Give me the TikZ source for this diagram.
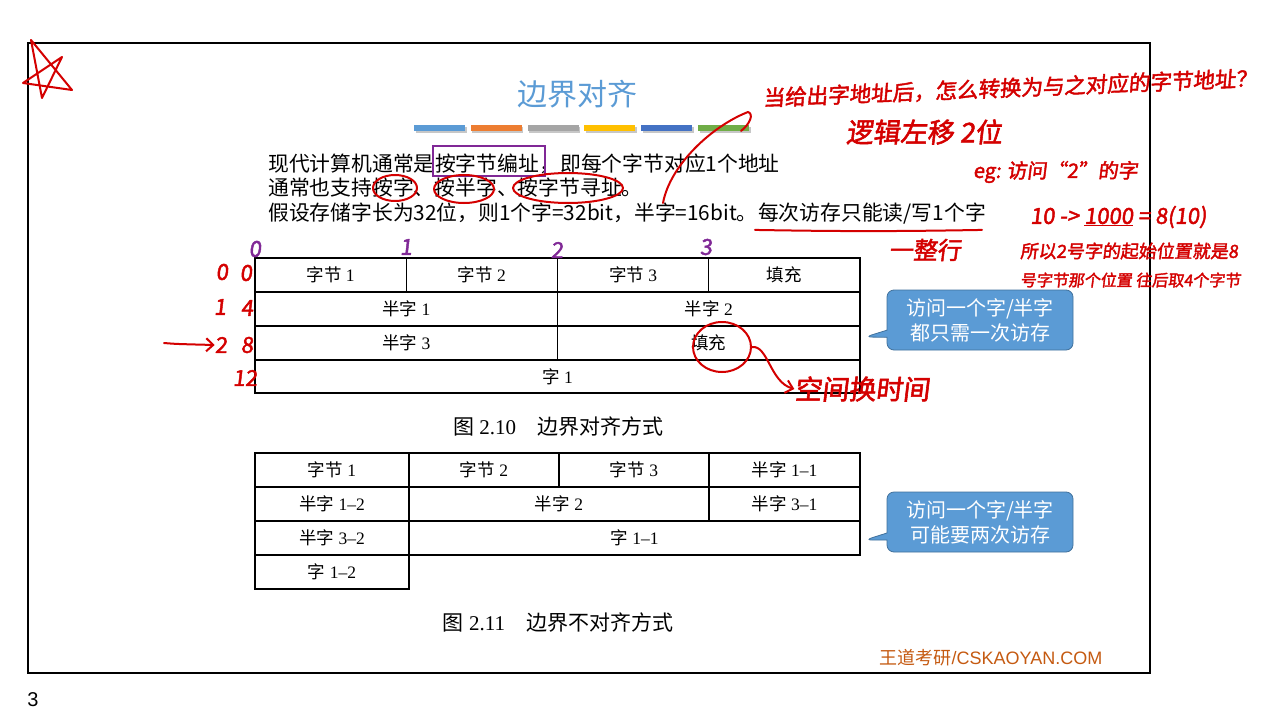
\documentclass[tikz,border=0pt]{standalone}
\usepackage{fontspec}
\setmainfont{Liberation Serif}
\newfontfamily\cjk{Noto Sans CJK SC}
\newfontfamily\hand{Noto Sans CJK SC}[FakeSlant=0.12,FakeBold=2]
\newfontfamily\lsans{Liberation Sans}
\usetikzlibrary{shapes.geometric,shapes.callouts,arrows.meta}

\definecolor{ttlblue}{RGB}{91,155,213}
\definecolor{callfill}{RGB}{91,155,213}
\definecolor{callline}{RGB}{65,113,156}
\definecolor{inkred}{RGB}{212,0,0}
\definecolor{inkpurple}{RGB}{128,40,150}
\definecolor{wmark}{RGB}{197,90,17}
\definecolor{barA}{RGB}{91,155,213}
\definecolor{barB}{RGB}{237,125,49}
\definecolor{barC}{RGB}{165,165,165}
\definecolor{barD}{RGB}{255,192,0}
\definecolor{barE}{RGB}{68,114,196}
\definecolor{barF}{RGB}{112,173,71}

\newcommand\cn[1]{{\cjk #1}}

\tikzset{
  body/.style={anchor=base west, inner sep=0pt, font=\cjk\fontsize{20.8}{24}\selectfont},
  cell/.style={draw, line width=1.2pt, minimum height=34pt, inner sep=0pt,
               font=\fontsize{17.5}{19}\selectfont},
  caption/.style={inner sep=0pt, font=\fontsize{21}{24}\selectfont},
  bubble/.style={rectangle callout, fill=callfill, draw=callline, line width=0.8pt,
                 rounded corners=7pt, minimum width=186pt, minimum height=60pt,
                 text=white, align=center, inner sep=0pt,
                 font=\cjk\fontsize{20}{25}\selectfont},
  ink/.style={draw=inkred, line width=2pt, line cap=round, line join=round},
  inktext/.style={inner sep=0pt, text=inkred},
  marknum/.style={inner sep=0pt, text=inkpurple, font=\hand\fontsize{22}{24}\selectfont},
  rownum/.style={inner sep=0pt, text=inkred, font=\hand\fontsize{22}{24}\selectfont},
  barb/.style={-{Straight Barb[length=7pt,width=13pt,line width=2pt]}}
}

\begin{document}
\begin{tikzpicture}[x=1pt,y=-1pt]
\useasboundingbox (0,0) rectangle (1261,725);
\fill[white] (0,0) rectangle (1261,725);

% slide frame and page number
\draw[line width=2.4pt] (28,43) rectangle (1150,673);
\node[inner sep=0pt, font=\lsans\fontsize{20}{22}\selectfont] (pageno) at (33,700) {3};

% title and colour bars
\node[inner sep=0pt, text=ttlblue, font=\cjk\fontsize{30}{34}\selectfont] (title) at (577,94) {边界对齐};
\foreach \c [count=\i from 0] in {barA,barB,barC,barD,barE,barF} {
  \fill[black!22] (415.5+56.8*\i,126.5) rectangle +(51,6);
  \fill[\c] (414+56.8*\i,125) rectangle +(51,6);
}

% body text
\node[body] (l1a) at (268,171) {现代计算机通常是};
\node[body] (l1b) at (l1a.base east) {按字节编址};
\node[body] (l1c) at (l1b.base east) {，即每个字节对应1个地址};
\draw[inkpurple, line width=1.6pt] (433,146) rectangle (545,176);
\node[body] (l2) at (268,195) {通常也支持按字、按半字、按字节寻址。};
\node[body] (l3a) at (268,220) {假设存储字长为32位，则1个字=32bit，半字=16bit。};
\node[body] (l3b) at (l3a.base east) {每次访存只能读/写1个字};

% aligned layout
\node[cell, minimum width=151.25pt] (a11) at (330.6,275) {\cn{字节} 1};
\node[cell, minimum width=151.25pt] (a12) at (481.9,275) {\cn{字节} 2};
\node[cell, minimum width=151.25pt] (a13) at (633.1,275) {\cn{字节} 3};
\node[cell, minimum width=151.25pt] (a14) at (784.4,275) {\cn{填充}};
\node[cell, minimum width=302.5pt] (a21) at (406.25,309) {\cn{半字} 1};
\node[cell, minimum width=302.5pt] (a22) at (708.75,309) {\cn{半字} 2};
\node[cell, minimum width=302.5pt] (a31) at (406.25,343) {\cn{半字} 3};
\node[cell, minimum width=302.5pt] (a32) at (708.75,343) {\cn{填充}};
\node[cell, minimum width=605pt, minimum height=33pt] (a41) at (557.5,376.5) {\cn{字} 1};
\node[caption] (cap1) at (558,427) {\cn{图} 2.10\quad\cn{边界对齐方式}};

% unaligned layout
\node[cell, minimum width=154pt] (b11) at (332,470) {\cn{字节} 1};
\node[cell, minimum width=150pt] (b12) at (484,470) {\cn{字节} 2};
\node[cell, minimum width=150pt] (b13) at (634,470) {\cn{字节} 3};
\node[cell, minimum width=151pt] (b14) at (784.5,470) {\cn{半字} 1–1};
\node[cell, minimum width=154pt] (b21) at (332,504) {\cn{半字} 1–2};
\node[cell, minimum width=300pt] (b22) at (559,504) {\cn{半字} 2};
\node[cell, minimum width=151pt] (b23) at (784.5,504) {\cn{半字} 3–1};
\node[cell, minimum width=154pt] (b31) at (332,538) {\cn{半字} 3–2};
\node[cell, minimum width=451pt] (b32) at (634.5,538) {\cn{字} 1–1};
\node[cell, minimum width=154pt] (b41) at (332,572) {\cn{字} 1–2};
\node[caption] (cap2) at (558,623) {\cn{图} 2.11\quad\cn{边界不对齐方式}};

% callouts
\node[bubble, callout absolute pointer={(865,337)}] (note1) at (980,320) {访问一个字/半字\\都只需一次访存};
\node[bubble, callout absolute pointer={(865,540)}] (note2) at (980,522) {访问一个字/半字\\可能要两次访存};

% watermark
\node[inner sep=0pt, text=wmark, font=\fontsize{18}{20}\selectfont] (wm) at (991,658) {\cn{王道考研}\lsans/CSKAOYAN.COM};

% ---- handwritten notes ----
\draw[ink] (31,40) -- (72,90) -- (23,83) -- (62,57) -- (42,98) -- cycle;

\node[inktext, rotate=2.3, font=\hand\fontsize{21.5}{24}\selectfont] (q1) at (1010,88)
  {当给出字地址后，怎么转换为与之对应的字节地址？};
\node[inktext, font=\hand\fontsize{27}{30}\selectfont] (q2) at (924,132) {逻辑左移 2位};
\node[inktext, anchor=west, font=\hand\fontsize{20}{24}\selectfont] (q3) at (973,172) {eg: 访问“2”的字};
\node[inktext, anchor=west, font=\hand\fontsize{22}{24}\selectfont] (q4) at (1030,217) {10 -> \underline{1000} = 8(10)};
\node[inktext, anchor=west, font=\hand\fontsize{18}{22}\selectfont] (q5) at (1020,251) {所以2号字的起始位置就是8};
\node[inktext, anchor=west, font=\hand\fontsize{16}{20}\selectfont] (q6) at (1020,280) {号字节那个位置 往后取4个字节};

% circles on the text lines
\draw[ink] (395,188) ellipse [x radius=22, y radius=13];
\draw[ink] (464,189) ellipse [x radius=30, y radius=14];
\draw[ink] (568,188) ellipse [x radius=55, y radius=15];
\draw[ink] (663,203) .. controls (670,165) and (712,126) .. (748,112)
               .. controls (754,114) and (750,124) .. (741,131);
\draw[ink] ([shift={(-3pt,-6pt)}]l3b.south west) to[bend right=1] ([shift={(-4pt,-6pt)}]l3b.south east);
\node[inktext, font=\hand\fontsize{24}{26}\selectfont] (q7) at (925,250) {一整行};

% byte offsets over the first layout
\node[marknum] (m0) at (255,249) {0};
\node[marknum] (m1) at (406,247) {1};
\node[marknum] (m2) at (557,250) {2};
\node[marknum] (m3) at (706,247) {3};

% word numbers and byte addresses beside the rows
\node[rownum] (n0) at (222,272) {0};
\node[rownum] (o0) at (246,273) {0};
\node[rownum] (n1) at (220,307) {1};
\node[rownum] (o1) at (247,308) {4};
\node[rownum] (n2) at (221,345) {2};
\node[rownum] (o2) at (247,345) {8};
\node[rownum] (o3) at (245,378) {12};
\coordinate (arrowtail) at (164,343);
\draw[ink, barb] (arrowtail) .. controls (176,344) .. (n2.west);

% padding: space traded for time
\node[ink, ellipse, inner sep=0pt, minimum width=58pt, minimum height=50pt] (ring) at (722,347) {};
\node[inktext, font=\hand\fontsize{27}{30}\selectfont] (trade) at (862,389) {空间换时间};
\draw[ink, barb] (ring.east) .. controls (768,345) and (770,382) .. (trade.west);
\end{tikzpicture}
\end{document}
